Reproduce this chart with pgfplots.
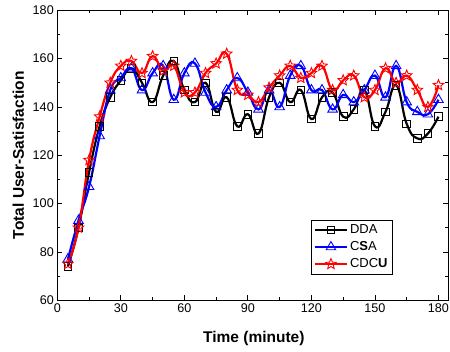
\documentclass[border=0pt]{standalone}
\usepackage{fontspec}
\setmainfont{Liberation Sans}
\usepackage{pgfplots}
\pgfplotsset{compat=1.18}
\usepackage{pgfplotstable}
\usetikzlibrary{plotmarks}

\pgfdeclareplotmark{ostar}{%
  \pgfpathmoveto{\pgfpointpolar{90}{\pgfplotmarksize}}%
  \pgfpathlineto{\pgfpointpolar{126}{0.45\pgfplotmarksize}}%
  \pgfpathlineto{\pgfpointpolar{162}{\pgfplotmarksize}}%
  \pgfpathlineto{\pgfpointpolar{198}{0.45\pgfplotmarksize}}%
  \pgfpathlineto{\pgfpointpolar{234}{\pgfplotmarksize}}%
  \pgfpathlineto{\pgfpointpolar{270}{0.45\pgfplotmarksize}}%
  \pgfpathlineto{\pgfpointpolar{306}{\pgfplotmarksize}}%
  \pgfpathlineto{\pgfpointpolar{342}{0.45\pgfplotmarksize}}%
  \pgfpathlineto{\pgfpointpolar{18}{\pgfplotmarksize}}%
  \pgfpathlineto{\pgfpointpolar{54}{0.45\pgfplotmarksize}}%
  \pgfpathclose
  \pgfusepathqstroke
}

\pgfplotstableread{
t v
5 74
10 90
15 113
20 132
25 144
30 151
35 156
40 150
45 142
50 153
55 159
60 147
65 142
70 150
75 138
80 144
85 132
90 137
95 129
100 144
105 150
110 142
115 147
120 135
125 144
130 146
135 136
140 139
145 147
150 132
155 138
160 149
165 133
170 127
175 129
180 136
}\dda

\pgfplotstableread{
t v
5 77
10 93
15 107
20 128
25 147
30 152
35 156
40 147
45 154
50 157
55 143
60 154
65 158
70 146
75 140
80 147
85 152
90 146
95 139
100 147
105 140
110 153
115 157
120 147
125 147
130 139
135 145
140 142
145 147
150 153
155 144
160 157
165 142
170 138
175 137
180 143
}\csa

\pgfplotstableread{
t v
5 75
10 90
15 118
20 136
25 150
30 157
35 159
40 154
45 161
50 155
55 157
60 146
65 146
70 154
75 158
80 162
85 147
90 145
95 142
100 148
105 153
110 157
115 152
120 154
125 157
130 147
135 151
140 153
145 144
150 147
155 156
160 150
165 153
170 147
175 140
180 149
}\cdcu

\begin{document}
\begin{tikzpicture}
\begin{axis}[
  scale only axis,
  width=390.7pt, height=290pt,
  xmin=0, xmax=184.5,
  ymin=60, ymax=180,
  xtick={0,30,...,180},
  ytick={60,80,...,180},
  minor x tick num=1,
  minor y tick num=1,
  tick align=inside,
  major tick length=5pt,
  minor tick length=3pt,
  axis line style={line width=0.9pt},
  every tick/.style={line width=0.8pt, black},
  /pgf/number format/assume math mode=true,
  tick label style={font=\fontsize{12.6}{14}\selectfont},
  xlabel={\textbf{Time (minute)}},
  ylabel={\textbf{Total User-Satisfaction}},
  xlabel style={font=\fontsize{15.5}{18}\selectfont, at={(axis description cs:0.503,-0.131)}, anchor=center},
  ylabel style={font=\fontsize{15.5}{18}\selectfont, at={(axis description cs:-0.1,0.5)}, anchor=center},
  legend style={at={(0.859,0.09)}, anchor=south east, draw=black, line width=0.6pt,
    font=\fontsize{13}{15}\selectfont, inner xsep=3pt, inner ysep=2.5pt, row sep=2.5pt},
  legend cell align=left,
  legend image code/.code={%
    \draw[mark repeat=2,mark phase=2] plot coordinates {(0pt,0pt) (16pt,0pt) (32pt,0pt)};},
]
\addplot[black, line width=2.2pt, smooth, tension=0.8, mark=square, mark size=3.8pt,
  mark options={line width=0.9pt, solid}] table[x=t,y=v]{\dda};
\addlegendentry{DDA}
\addplot[blue, line width=2.2pt, smooth, tension=0.8, mark=triangle, mark size=5.5pt,
  mark options={line width=0.9pt, solid}] table[x=t,y=v]{\csa};
\addlegendentry{C\textbf{S}A}
\addplot[red, line width=2.2pt, smooth, tension=0.8, mark=ostar, mark size=5.5pt,
  mark options={line width=0.9pt, solid}] table[x=t,y=v]{\cdcu};
\addlegendentry{CDC\textbf{U}}
\end{axis}
\pgfresetboundingbox
\useasboundingbox (-57.3pt,-51pt) rectangle (392.7pt,300.3pt);
\end{tikzpicture}
\end{document}
